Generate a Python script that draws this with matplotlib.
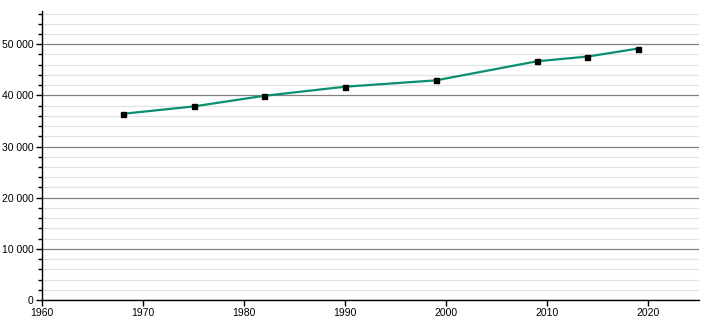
import matplotlib
matplotlib.use("Agg")
import matplotlib.pyplot as plt
from matplotlib.ticker import MultipleLocator, FuncFormatter

years = [1968, 1975, 1982, 1990, 1999, 2009, 2014, 2019]
population = [36400, 37840, 39920, 41700, 42940, 46670, 47590, 49150]

plt.rcParams['font.family'] = ['Liberation Sans', 'DejaVu Sans']

fig = plt.figure(figsize=(7.1, 3.2), dpi=100)
ax = fig.add_axes([42/710, 20/320, (698.5-42)/710, (300-11)/320])

ax.set_xlim(1960, 2025)
ax.set_ylim(0, 56500)

ax.yaxis.set_major_locator(MultipleLocator(10000))
ax.yaxis.set_minor_locator(MultipleLocator(2000))
ax.xaxis.set_major_locator(MultipleLocator(10))

ax.grid(which='minor', axis='y', color='#e2e2e2', linewidth=0.9)
ax.grid(which='major', axis='y', color='#808080', linewidth=0.9)
ax.set_axisbelow(True)

ax.plot(years, population, color='#0a9070', linewidth=1.6, zorder=3)
ax.plot(years, population, linestyle='none', marker='s', markersize=3.6,
        color='black', zorder=4)

ax.yaxis.set_major_formatter(FuncFormatter(lambda v, p: f"{int(v):,}".replace(",", " ")))

for s in ['top', 'right']:
    ax.spines[s].set_visible(False)
ax.spines['left'].set_linewidth(1.0)
ax.spines['bottom'].set_linewidth(1.0)

ax.tick_params(axis='both', which='major', labelsize=7.5, length=4, width=1, pad=2)
ax.tick_params(axis='y', which='minor', length=3, width=1)
ax.tick_params(axis='x', which='minor', length=0)

fig.savefig('out.png', dpi=100)
